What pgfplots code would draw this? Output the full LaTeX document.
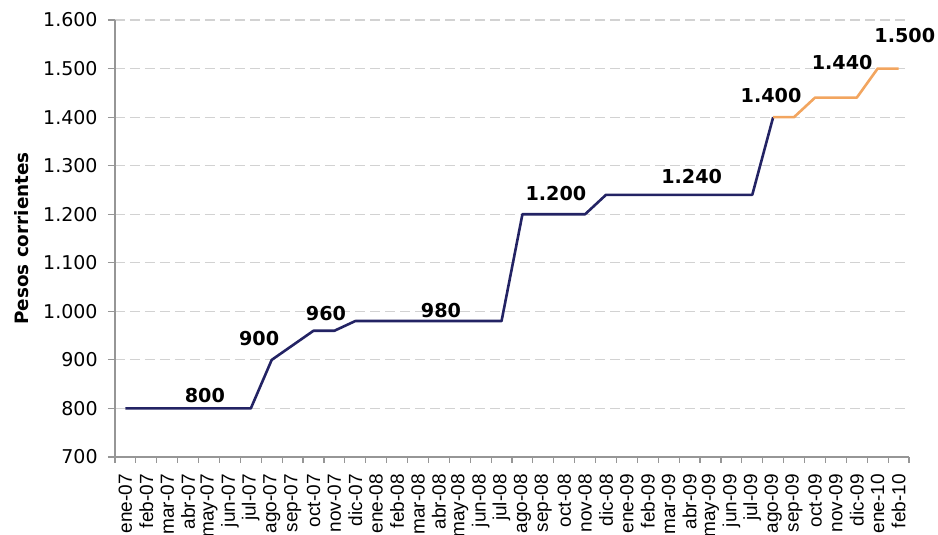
\documentclass[border=0pt]{standalone}
\usepackage{pgfplots}
\pgfplotsset{compat=1.18}
\usepackage{fontspec}
\setmainfont{DejaVu Sans}
\newfontfamily\arialfont{Liberation Sans}

\definecolor{navy}{RGB}{35,35,100}
\definecolor{orng}{RGB}{242,165,95}
\definecolor{axisgray}{RGB}{150,150,150}
\definecolor{gridgray}{RGB}{210,210,210}

\begin{document}
\begin{tikzpicture}
% fixed frame around the plot area
\path[use as bounding box] (-57.5pt,-39pt) rectangle (411.5pt,228.5pt);
\begin{axis}[
  name=ax,
  at={(0,0)}, anchor=south west,
  scale only axis, width=397pt, height=218.5pt,
  xmin=-0.5, xmax=37.5, ymin=700, ymax=1600,
  clip=false,
  axis x line*=bottom, axis y line*=left,
  axis line style={axisgray, line width=0.8pt, -},
  tick align=outside,
  ytick={700,800,...,1600},
  xtick={0,...,37},
  minor xtick={-0.5,0.5,...,37.5},
  major tick length=3.5pt, minor tick length=3pt,
  every major x tick/.style={draw=none},
  every tick/.style={axisgray, line width=0.6pt},
  xticklabels={ene-07,feb-07,mar-07,abr-07,may-07,jun-07,jul-07,ago-07,sep-07,oct-07,nov-07,dic-07,
               ene-08,feb-08,mar-08,abr-08,may-08,jun-08,jul-08,ago-08,sep-08,oct-08,nov-08,dic-08,
               ene-09,feb-09,mar-09,abr-09,may-09,jun-09,jul-09,ago-09,sep-09,oct-09,nov-09,dic-09,
               ene-10,feb-10},
  xticklabel style={font=\arialfont\fontsize{9.5}{10}\selectfont, yshift=-4pt, rotate=90,
                    anchor=east, inner sep=1pt},
  yticklabel style={font=\fontsize{9.5}{10}\selectfont, inner sep=1pt, xshift=-4pt,
                    /pgf/number format/.cd, 1000 sep={.}, fixed, assume math mode=true},
  ymajorgrids,
  major grid style={gridgray, dash pattern=on 5pt off 2.5pt, line width=0.6pt},
  ylabel={Pesos corrientes},
  every axis y label/.style={at={(rel axis cs:0,0.5)}, xshift=-46.5pt, rotate=90, anchor=center,
                             font=\bfseries\fontsize{9.2}{10}\selectfont},
]
% monthly values up to ago-09
\addplot[navy, line width=1.3pt, line join=round] coordinates {
  (0,800) (1,800) (2,800) (3,800) (4,800) (5,800) (6,800)
  (7,900) (8,930) (9,960) (10,960) (11,980)
  (12,980) (13,980) (14,980) (15,980) (16,980) (17,980) (18,980)
  (19,1200) (20,1200) (21,1200) (22,1200) (23,1240)
  (24,1240) (25,1240) (26,1240) (27,1240) (28,1240) (29,1240) (30,1240)
  (31,1400)
};
% ago-09 onwards
\addplot[orng, line width=1.3pt, line join=round] coordinates {
  (31,1400) (32,1400) (33,1440) (34,1440) (35,1440) (36,1500) (37,1500)
};
% value labels
\begin{scope}[every node/.style={font=\bfseries\fontsize{9.6}{10}\selectfont}]
\node at (axis cs:3.8,827) {800};
\node at (axis cs:6.4,945) {900};
\node at (axis cs:9.6,996) {960};
\node at (axis cs:15.1,1002) {980};
\node at (axis cs:20.6,1243) {1.200};
\node at (axis cs:27.1,1278) {1.240};
\node at (axis cs:30.9,1445) {1.400};
\node at (axis cs:34.3,1513) {1.440};
\node at (axis cs:37.3,1568) {1.500};
\end{scope}
\end{axis}
\end{tikzpicture}
\end{document}
